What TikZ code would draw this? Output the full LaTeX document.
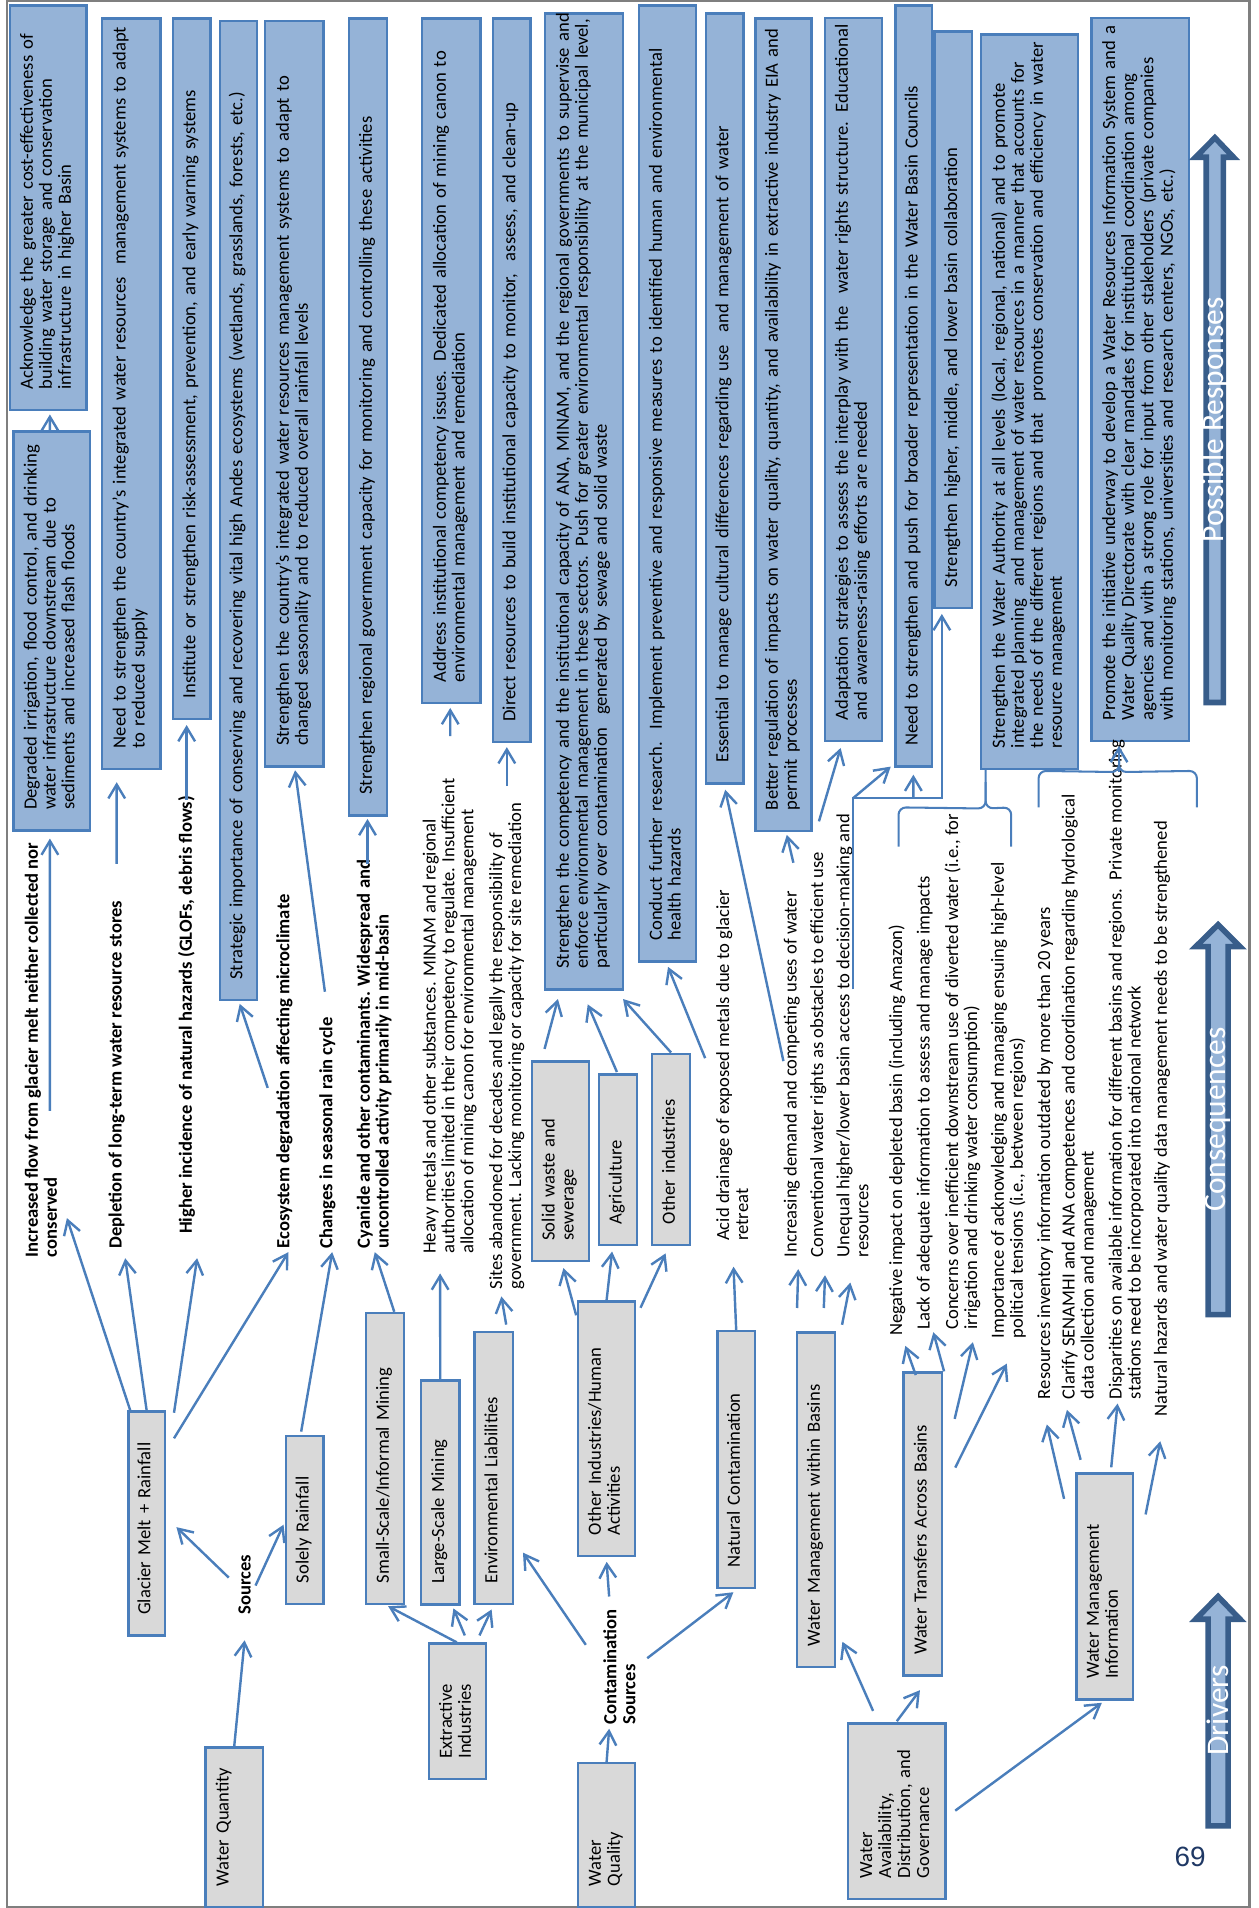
\documentclass[tikz,border=0pt]{standalone}
\usepackage{fontspec}
\setmainfont{Carlito}
\newfontfamily\numfont{Liberation Sans}
\usepackage{tikz}
\usetikzlibrary{positioning,calc,arrows.meta}

\definecolor{respfill}{HTML}{95B3D7}
\definecolor{drvfill}{HTML}{D9D9D9}
\definecolor{lineblue}{HTML}{4A7EBB}
\definecolor{arrowedge}{HTML}{385D8A}
\definecolor{pagenum}{HTML}{1F3864}
\definecolor{pageframe}{HTML}{7F7F7F}

\newcommand\txtfont{\fontsize{10}{10.2}\selectfont}
\newcommand\lns[1]{\begin{tabular}{@{}l@{}}#1\end{tabular}}

\begin{document}
\begin{tikzpicture}[
    x=0.654pt, y=-0.654pt,
    box/.style={rotate=90, draw=lineblue, line width=1.3pt, align=left, inner xsep=11.12pt, inner ysep=1pt, font=\txtfont},
    resp/.style={box, fill=respfill},
    drv/.style={box, fill=drvfill},
    boxlen/.style={/utils/exec={\pgfmathsetlengthmacro\bxtw{(#1-34)*0.654}}, text width=\bxtw},
    boxthk/.style={minimum height=#1*0.654pt},
    cons/.style={rotate=90, anchor=west, align=left, inner sep=0pt, font=\txtfont},
    consb/.style={cons, font=\txtfont\bfseries},
    conn/.style={draw=lineblue, line width=1.3pt, -{Straight Barb[length=7.5pt,width=9pt]}},
    brace/.style={draw=lineblue, line width=1.1pt, rounded corners=4pt},
    bigarrow/.style={draw=arrowedge, fill=respfill, line width=3pt},
    biglabel/.style={rotate=90, text=white, inner sep=0pt, font=\fontsize{16.9}{18}\selectfont}
]

\useasboundingbox (0,0) rectangle (1034,1568);
\draw[pageframe, line width=1.2pt] (6,0.8) rectangle (1026.8,1567);

% responses
\node[resp, boxlen=332.6, boxthk=63] (resp1) at (39.5,170.7) {\lns{Acknowledge the greater cost-effectiveness of\\building water storage and conservation\\infrastructure in higher Basin}};
\node[resp, boxlen=328, boxthk=63] (resp2) at (42.5,518.6) {\lns{Degraded irrigation, flood control, and drinking\\water infrastructure downstream due to\\sediments and increased flash floods}};
\node[resp, boxlen=616.6, boxthk=48] (resp3) at (108,323.5) {\lns{Need to strengthen the country's integrated water resources\ \ management systems to adapt\\to reduced supply}};
\node[resp, boxlen=575.7, boxthk=31] (resp4) at (157.5,303) {\lns{Institute or strengthen risk-assessment, prevention, and early warning systems}};
\node[resp, boxlen=804.6, boxthk=30] (resp5) at (196,419.7) {\lns{Strategic importance of conserving and recovering vital high Andes ecosystems (wetlands, grasslands, forests, etc.)}};
\node[resp, boxlen=612.6, boxthk=48] (resp6) at (242,323.7) {\lns{Strengthen the country's integrated water resources management systems to adapt to\\changed seasonality and to reduced overall rainfall levels}};
\node[resp, boxlen=654.8, boxthk=31] (resp7) at (302.5,342.6) {\lns{Strengthen regional government capacity for monitoring and controlling these activities}};
\node[resp, boxlen=562.6, boxthk=48] (resp8) at (371,296.5) {\lns{Address institutional competency issues. Dedicated allocation of mining canon to\\environmental management and remediation}};
\node[resp, boxlen=594.8, boxthk=31] (resp9) at (420.5,312.6) {\lns{Direct resources to build institutional capacity to monitor,\ \ assess, and clean-up}};
\node[resp, boxlen=802, boxthk=64] (resp10) at (480,412) {\lns{Strengthen the competency and the institutional capacity of ANA, MINAM, and the regional governments to supervise and\\enforce environmental management in these sectors. Push for greater environmental responsibility at the municipal level,\\particularly over contamination\ \ generated by sewage and solid waste}};
\node[resp, boxlen=785.6, boxthk=47] (resp11) at (548.5,397.2) {\lns{Conduct further research.\ \ Implement preventive and responsive measures to identified human and environmental\\health hazards}};
\node[resp, boxlen=633, boxthk=31] (resp12) at (595.5,327.5) {\lns{Essential to manage cultural differences regarding use\ \ and management of water}};
\node[resp, boxlen=667.4, boxthk=46] (resp13) at (644,349) {\lns{Better regulation of impacts on water quality, quantity, and availability in extractive industry EIA and\\permit processes}};
\node[resp, boxlen=594, boxthk=47] (resp14) at (701.5,312) {\lns{Adaptation strategies to assess the interplay with the\ \ water rights structure. Educational\\and awareness-raising efforts are needed}};
\node[resp, boxlen=625.6, boxthk=30] (resp15) at (751,317.2) {\lns{Need to strengthen and push for broader representation in the Water Basin Councils}};
\node[resp, boxlen=473.5, boxthk=31] (resp16) at (783.5,262.8) {\lns{Strengthen higher, middle, and lower basin collaboration}};
\node[resp, boxlen=603.5, boxthk=80] (resp17) at (846,330) {\lns{Strengthen the Water Authority at all levels (local, regional, national) and to promote\\integrated planning\ \ and management of water resources in a manner that accounts for\\the needs of the different regions and that\ \ promotes conservation and efficiency in water\\resource management}};
\node[resp, boxlen=594, boxthk=80] (resp18) at (937,312) {\lns{Promote the initiative underway to develop a Water Resources Information System and a\\Water Quality Directorate with clear mandates for institutional coordination among\\agencies and with a strong role for input from other stakeholders (private companies\\with monitoring stations, universities and research centers, NGOs, etc.)}};

% drivers
\node[drv, boxlen=131, boxthk=47] (wq) at (192.5,1501.5) {\lns{Water Quantity\\~}};
\node[consb] (srcs) at (201,1327) {Sources};
\node[drv, boxlen=184, boxthk=30] (glac) at (120.5,1252) {\lns{Glacier Melt + Rainfall}};
\node[drv, boxlen=138, boxthk=31] (solely) at (250.5,1249) {\lns{Solely Rainfall}};
\node[drv, boxlen=111.4, boxthk=46.7] (extr) at (376,1406.4) {\lns{Extractive\\Industries}};
\node[drv, boxlen=239, boxthk=31] (small) at (316.5,1198.5) {\lns{Small-Scale/Informal Mining}};
\node[drv, boxlen=184, boxthk=31.6] (large) at (361.8,1226.4) {\lns{Large-Scale Mining}};
\node[drv, boxlen=223.5, boxthk=31.4] (envl) at (405.7,1206.5) {\lns{Environmental Liabilities}};
\node[drv, boxlen=118, boxthk=47] (wqual) at (498.5,1508) {\lns{Water\\Quality}};
\node[consb] (csrc) at (509,1417.2) {Contamination\\Sources};
\node[drv, boxlen=209, boxthk=47] (othind) at (498.5,1174) {\lns{Other Industries/Human\\Activities}};
\node[drv, boxlen=211, boxthk=31] (natc) at (605,1199.5) {\lns{Natural Contamination}};
\node[drv, boxlen=144, boxthk=80] (wadg) at (737,1488.5) {\lns{Water\\Availability,\\Distribution, and\\Governance}};
\node[drv, boxlen=275, boxthk=31.6] (wmwb) at (670.6,1232.4) {\lns{Water Management within Basins}};
\node[drv, boxlen=249, boxthk=31.5] (wtab) at (758.3,1252.5) {\lns{Water Transfers Across Basins}};
\node[drv, boxlen=185.5, boxthk=46.5] (wmi) at (907.8,1303.8) {\lns{Water Management\\Information}};
\node[drv, boxlen=164, boxthk=47] (solid) at (460.5,954.5) {\lns{Solid waste and\\sewerage}};
\node[drv, boxlen=140, boxthk=31.5] (agri) at (507.8,953) {\lns{Agriculture}};
\node[drv, boxlen=157, boxthk=31] (othi) at (551.5,944.5) {\lns{Other industries}};

% consequences
\node[consb] (incr) at (33.6,1033.4) {Increased flow from glacier melt neither collected nor\\conserved};
\node[consb] (depl) at (95.9,1026) {Depletion of long-term water resource stores};
\node[consb] (hazd) at (153.4,1014.3) {Higher incidence of natural hazards (GLOFs, debris flows)};
\node[consb] (ecos) at (233.7,1026) {Ecosystem degradation affecting microclimate};
\node[consb] (rain) at (269,1026) {Changes in seasonal rain cycle};
\node[consb] (cyan) at (307.5,1026) {Cyanide and other contaminants. Widespread and\\uncontrolled activity primarily in mid-basin};
\node[cons] (heavy) at (369.5,1030.5) {Heavy metals and other substances. MINAM and regional\\authorities limited in their competency to regulate. Insufficient\\allocation of mining canon for environmental management};
\node[cons] (sites) at (416.5,1060) {Sites abandoned for decades and legally the responsibility of\\government. Lacking monitoring or capacity for site remediation};
\node[cons] (acid) at (601.8,1020) {Acid drainage of exposed metals due to glacier\\retreat};
\node[cons] (incd) at (650.7,1033.4) {Increasing demand and competing uses of water};
\node[cons] (conv) at (672.5,1033.4) {Conventional water rights as obstacles to efficient use};
\node[cons] (uneq) at (700.5,1033.4) {Unequal higher/lower basin access to decision-making and\\resources};
\node[cons] (negi) at (737,1098) {Negative impact on depleted basin (including Amazon)};
\node[cons] (lack) at (760,1093) {Lack of adequate information to assess and manage impacts};
\node[cons] (conc) at (791,1093) {Concerns over inefficient downstream use of diverted water (i.e., for\\irrigation and drinking water consumption)};
\node[cons] (impt) at (828.7,1100) {Importance of acknowledging and managing ensuing high-level\\political tensions (i.e., between regions)};
\node[cons] (resi) at (859,1150) {Resources inventory information outdated by more than 20 years};
\node[cons] (clar) at (887,1150) {Clarify SENAMHI and ANA competences and coordination regarding hydrological\\data collection and management};
\node[cons] (disp) at (925.5,1150) {Disparities on available information for different basins and regions.\ \ Private monitoring\\stations need to be incorporated into national network};
\node[cons] (nath) at (955,1164) {Natural hazards and water quality data management needs to be strengthened};

% big arrows
\draw[bigarrow] (998.4,113.2) -- (1013.7,129.2) -- (1005.4,129.2) -- (1005.4,577.3) -- (991.3,577.3) -- (991.3,129.2) -- (982.6,129.2) -- cycle;
\draw[bigarrow] (1001,759.9) -- (1019.1,778) -- (1009.3,778) -- (1009.3,1080.4) -- (992.8,1080.4) -- (992.8,778) -- (982.6,778) -- cycle;
\draw[bigarrow] (1001,1312) -- (1019.1,1330.7) -- (1009.3,1330.7) -- (1009.3,1500.5) -- (992.8,1500.5) -- (992.8,1330.7) -- (982.6,1330.7) -- cycle;
\node[biglabel] (respLbl) at (998.4,345) {Possible Responses};
\node[biglabel] (consLbl) at (1001,920) {Consequences};
\node[biglabel] (drvLbl) at (1001,1405.7) {Drivers};
\node[font=\numfont\fontsize{15}{16}\selectfont, text=pagenum, inner sep=0pt] (pnum) at (978,1526) {69};

% water quantity
\draw[conn] (wq.east) -- ($(srcs.west)+(0,21)$);
\draw[conn] ($(srcs.west)+(-13,-30.5)$) -- ($(glac.south)+(8.5,3)$);
\draw[conn] ($(srcs.west)+(9,-24)$) -- ($(solely.north)+(-1,4)$);
\draw[conn] ($(glac.north east)+(2.5,0)$) -- ($(incr.west)+(21.4,-32.4)$);
\draw[conn] (glac.east) -- ($(depl.west)+(7,8)$);
\draw[conn] ($(glac.south east)+(6.5,2)$) -- ($(hazd.west)+(8.6,19.7)$);
\draw[conn] ($(glac.south east)+(6.5,23)$) -- ($(ecos.west)+(3.3,3)$);
\draw[conn] ($(solely.east)+(-3,-2.5)$) -- ($(rain.west)+(4,3)$);

% water quality
\draw[conn] ($(small.east)+(7.5,0)$) -- ($(cyan.west)+(0.5,3)$);
\draw[conn] ($(extr.east)+(-0.6,0)$) -- ($(small.west)+(2.5,1)$);
\draw[conn] ($(extr.east)+(6,-5.7)$) -- ($(large.west)+(10.8,2.4)$);
\draw[conn] ($(extr.east)+(18,-5.7)$) -- ($(envl.west)+(-1.7,3.4)$);
\draw[conn] (large.east) -- ($(heavy.west)+(-7.8,16)$);
\draw[conn] ($(envl.east)+(10.3,-5.2)$) -- ($(sites.west)+(-4.5,5.4)$);
\draw[conn] (wqual.east) -- ($(csrc.west)+(-8.4,3.5)$);
\draw[conn] ($(csrc.west)+(-27.6,-65.5)$) -- ($(envl.south west)+(7.4,-43.3)$);
\draw[conn] ($(csrc.west)+(-8.4,-105.2)$) -- ($(othind.west)+(0,4)$);
\draw[conn] ($(csrc.west)+(22.9,-54.5)$) -- ($(natc.west)+(-2.3,2.5)$);
\draw[conn] ($(othind.north east)+(-0.5,12.4)$) -- ($(solid.west)+(2.5,4.6)$);
\draw[conn] (othind.east) -- ($(agri.west)+(-4.8,4.5)$);
\draw[conn] ($(othind.south east)+(3.4,6.2)$) -- ($(othi.west)+(-4.5,6)$);
\draw[conn] (natc.east) -- ($(acid.west)+(1,21)$);

% governance
\draw[conn] ($(wadg.north east)+(21.5,-9.5)$) -- ($(wmwb.south west)+(4.9,-21.7)$);
\draw[conn] ($(wadg.east)+(0,-1)$) -- ($(wtab.west)+(-2.3,11)$);
\draw[conn] ($(wadg.south)+(7,-0.5)$) -- ($(wmi.west)+(-2.3,1.8)$);
\draw[conn] ($(wmwb.north east)+(1.2,-19)$) -- ($(incd.west)+(5.3,9.6)$);
\draw[conn] ($(wmwb.north east)+(23.2,-19)$) -- ($(conv.west)+(5.5,14.6)$);
\draw[conn] ($(wmwb.north east)+(38.2,-5.2)$) -- ($(uneq.west)+(-1.7,20.6)$);
\draw[conn] ($(wtab.north east)+(11,3)$) -- ($(negi.west)+(7,8)$);
\draw[conn] ($(wtab.south east)+(0.8,0)$) -- ($(lack.west)+(7,1.8)$);
\draw[conn] ($(wtab.south east)+(9.5,39)$) -- ($(conc.west)+(8.5,10)$);
\draw[conn] ($(wtab.south east)+(10,79)$) -- ($(impt.west)+(-1.3,20.6)$);
\draw[conn] ($(wmi.north east)+(-9.1,21.7)$) -- ($(resi.west)+(1.3,20.6)$);
\draw[conn] ($(wmi.north east)+(4.5,-10.4)$) -- ($(clar.west)+(-10.2,8.6)$);
\draw[conn] ($(wmi.east)+(5.4,-4.2)$) -- ($(disp.west)+(-7.1,3.4)$);
\draw[conn] ($(wmi.south east)+(9.4,34.5)$) -- ($(nath.west)+(-1.5,20.4)$);

% consequences to responses
\draw[conn] ($(incr.west)+(7.4,-120.4)$) -- ($(resp2.west)+(-1.5,5.5)$);
\draw[conn] ($(resp2.east)+(-1.5,0)$) -- ($(resp1.west)+(1.5,2.6)$);
\draw[conn] ($(depl.west)+(0,-316)$) -- ($(resp3.west)+(-12.1,10)$);
\draw[conn] ($(hazd.west)+(0,-356.7)$) -- ($(resp4.west)+(-4.1,4)$);
\draw[conn] ($(ecos.west)+(-13.7,-132)$) -- ($(resp5.west)+(1,2)$);
\draw[conn] ($(rain.west)+(-2,-211)$) -- ($(resp6.west)+(0.5,2)$);
\draw[conn] ($(cyan.west)+(-5.5,-316)$) -- ($(resp7.west)+(-0.5,2)$);
\draw[conn] ($(heavy.west)+(0.5,-425.5)$) -- ($(resp8.west)+(-1,3)$);
\draw[conn] ($(sites.west)+(0,-414)$) -- ($(resp9.west)+(-4,3)$);
\draw[conn] ($(solid.north east)+(11.5,-9.5)$) -- ($(resp10.north west)+(11.5,7)$);
\draw[conn] ($(agri.east)+(-0.8,-1)$) -- ($(resp10.west)+(3,11.4)$);
\draw[conn] (othi.east) -- ($(resp10.south west)+(-1,7)$);
\draw[conn] ($(acid.west)+(-22.3,-150.4)$) -- ($(resp11.west)+(0.5,3.6)$);
\draw[conn] ($(incd.west)+(-6.9,-161.4)$) -- ($(resp12.west)+(0.5,4)$);
\draw[conn] ($(incd.west)+(1.3,-324.4)$) -- ($(resp13.west)+(2.6,2.4)$);
\draw[conn] ($(conv.west)+(0.5,-358.4)$) -- ($(resp14.north west)+(13.8,4.7)$);
\coordinate (hub) at ($(uneq.west)+(0.5,-377.4)$);
\draw[conn] ($(uneq.west)+(0.5,-220.4)$) -- (hub) -| ($(resp16.north west)+(7,4)$);
\draw[conn] (hub) -- ($(resp15.north west)+(-3,-1)$);
\draw[conn] ($(hub)+(49.6,0)$) -- ($(resp15.west)+(-0.4,5.6)$);

\draw[brace] (738.4,695.8) -- (738.4,663.5) -- ($(resp17.north west)+(5,31.7)$) -- ($(resp17.north west)+(5,0)$);
\draw[brace] (831,695.8) -- (831,663.5) -- ($(resp17.north west)+(5,31.7)$) -- ($(resp17.north west)+(5,10)$);
\draw[brace] (853.5,663.5) -- (853.5,633.5) -- ($(resp18.north west)+(23.6,24.5)$) -- ($(resp18.north west)+(23.6,14)$);
\draw[brace] (983.6,663.5) -- (983.6,633.5) -- ($(resp18.north west)+(23.6,24.5)$) -- ($(resp18.north west)+(23.6,14)$);
\draw[conn] ($(resp18.north west)+(23.6,24.5)$) -- ($(resp18.north west)+(23.6,3)$);

\end{tikzpicture}
\end{document}
